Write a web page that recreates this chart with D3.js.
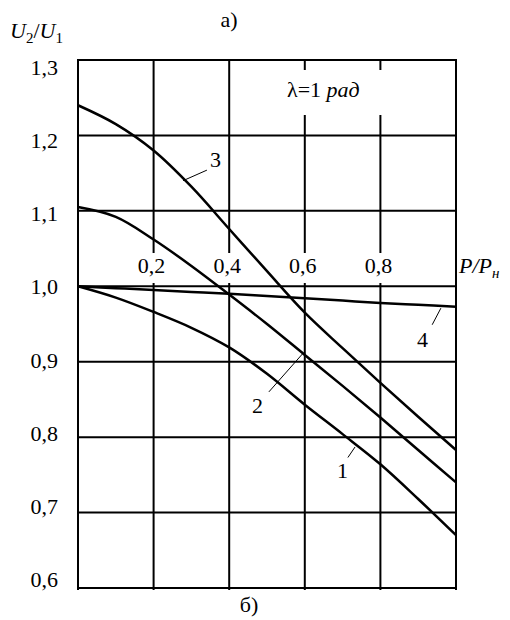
<!DOCTYPE html>
<html>
<head>
<meta charset="utf-8">
<script src="https://d3js.org/d3.v7.min.js"></script>
<style>
  body { margin: 0; background: #fff; }
</style>
</head>
<body>
<script>
// P/Pн values where the curves were read
var loads = [0, 0.1, 0.2, 0.3, 0.4, 0.5, 0.6, 0.7, 0.8, 0.9, 1.0];
var curve1 = [1.0, 0.985, 0.966, 0.945, 0.919, 0.884, 0.843, 0.804, 0.764, 0.718, 0.670];
var curve2 = [1.105, 1.092, 1.062, 1.027, 0.989, 0.950, 0.909, 0.868, 0.826, 0.783, 0.740];
var curve3 = [1.240, 1.215, 1.180, 1.132, 1.076, 1.020, 0.965, 0.918, 0.872, 0.827, 0.783];
var curve4 = [1.0, 0.9975, 0.995, 0.9925, 0.990, 0.987, 0.984, 0.981, 0.978, 0.9755, 0.973];
var curveNames = ['1', '2', '3', '4'];

var xTicks = [0.2, 0.4, 0.6, 0.8];
var xTickLabels = ['0,2', '0,4', '0,6', '0,8'];
var yTicks = [0.6, 0.7, 0.8, 0.9, 1.0, 1.1, 1.2, 1.3];
var yTickLabels = ['0,6', '0,7', '0,8', '0,9', '1,0', '1,1', '1,2', '1,3'];

// label leader lines: [from x, from y, to x, to y], text at [x, y]
var leaderFrom = [[0.714, 0.773], [0.505, 0.860], [0.278, 1.140], [0.937, 0.949]];
var leaderTo = [[0.733, 0.787], [0.595, 0.911], [0.341, 1.154], [0.960, 0.971]];
var labelAt = [[0.685, 0.746], [0.460, 0.832], [0.349, 1.158], [0.897, 0.919]];

var svg = d3.select('body').append('svg')
  .attr('width', 510)
  .attr('height', 620)
  .style('font-family', '"Liberation Serif", "Times New Roman", serif');

var x = d3.scaleLinear().domain([0, 1]).range([78, 456]);
var y = d3.scaleLinear().domain([0.6, 1.3]).range([588, 60]);
// tick labels in the source sit on a slightly tighter spacing than the grid
var yLab = d3.scaleLinear().domain([0.6, 1.3]).range([587, 75]);

// grid
var grid = svg.append('g').attr('stroke', '#000').attr('stroke-width', 2);
grid.selectAll('line.v')
  .data([0, 0.2, 0.4, 0.6, 0.8, 1.0])
  .enter().append('line')
  .attr('x1', function(d) { return x(d); })
  .attr('x2', function(d) { return x(d); })
  .attr('y1', y(1.3))
  .attr('y2', y(0.6) + 2);
grid.selectAll('line.h')
  .data(yTicks)
  .enter().append('line')
  .attr('x1', x(0) - 1)
  .attr('x2', x(1) + 1)
  .attr('y1', function(d) { return y(d); })
  .attr('y2', function(d) { return y(d); });

// white boxes behind in-plot texts
svg.selectAll('rect.xl')
  .data(xTicks)
  .enter().append('rect')
  .attr('x', function(d) { return x(d) - 18; })
  .attr('y', 253)
  .attr('width', 36)
  .attr('height', 30)
  .style('fill', '#fff');

svg.append('rect')
  .attr('x', 283).attr('y', 70)
  .attr('width', 100).attr('height', 45)
  .style('fill', '#fff');

// x tick labels (on the 1,0 line)
svg.selectAll('text.xt')
  .data(xTicks)
  .enter().append('text')
  .attr('x', function(d) { return x(d) - 2; })
  .attr('y', 273)
  .attr('text-anchor', 'middle')
  .style('font-size', '22px')
  .text(function(d, i) { return xTickLabels[i]; });

// y tick labels
svg.selectAll('text.yt')
  .data(yTicks)
  .enter().append('text')
  .attr('x', 58)
  .attr('y', function(d) { return yLab(d); })
  .attr('text-anchor', 'end')
  .style('font-size', '22px')
  .text(function(d, i) { return yTickLabels[i]; });

// curves
var series = [curve1, curve2, curve3, curve4];
var line = d3.line()
  .x(function(d) { return x(d[0]); })
  .y(function(d) { return y(d[1]); })
  .curve(d3.curveCatmullRom.alpha(0.5));

svg.selectAll('path.curve')
  .data(series)
  .enter().append('path')
  .attr('d', function(s) { return line(loads.map(function(p, i) { return [p, s[i]]; })); })
  .style('fill', 'none')
  .style('stroke', '#000')
  .style('stroke-width', 2.5);

// curve numbers with leaders
svg.selectAll('line.leader')
  .data(curveNames)
  .enter().append('line')
  .attr('x1', function(d, i) { return x(leaderFrom[i][0]); })
  .attr('y1', function(d, i) { return y(leaderFrom[i][1]); })
  .attr('x2', function(d, i) { return x(leaderTo[i][0]); })
  .attr('y2', function(d, i) { return y(leaderTo[i][1]); })
  .style('stroke', '#000')
  .style('stroke-width', 1);

svg.selectAll('text.cn')
  .data(curveNames)
  .enter().append('text')
  .attr('x', function(d, i) { return x(labelAt[i][0]); })
  .attr('y', function(d, i) { return y(labelAt[i][1]); })
  .style('font-size', '22px')
  .text(function(d) { return d; });

// parameter note
var note = svg.append('text')
  .attr('x', 287).attr('y', 97)
  .style('font-size', '22px');
note.append('tspan').text('λ=1 ');
note.append('tspan').style('font-style', 'italic').text('рад');

// axis titles
var yTitle = svg.append('text').attr('x', 10).attr('y', 38).style('font-size', '22px');
yTitle.append('tspan').style('font-style', 'italic').text('U');
yTitle.append('tspan').attr('dy', 5).style('font-size', '15px').text('2');
yTitle.append('tspan').attr('dy', -5).text('/');
yTitle.append('tspan').style('font-style', 'italic').text('U');
yTitle.append('tspan').attr('dy', 5).style('font-size', '15px').text('1');

var xTitle = svg.append('text').attr('x', 459).attr('y', 273).style('font-size', '22px');
xTitle.append('tspan').style('font-style', 'italic').text('P/P');
xTitle.append('tspan').attr('dy', 5).style('font-style', 'italic').style('font-size', '15px').text('н');

svg.append('text')
  .attr('x', 229).attr('y', 27)
  .attr('text-anchor', 'middle')
  .style('font-size', '22px')
  .text('а)');

svg.append('text')
  .attr('x', 249).attr('y', 612)
  .attr('text-anchor', 'middle')
  .style('font-size', '22px')
  .text('б)');
</script>
</body>
</html>
